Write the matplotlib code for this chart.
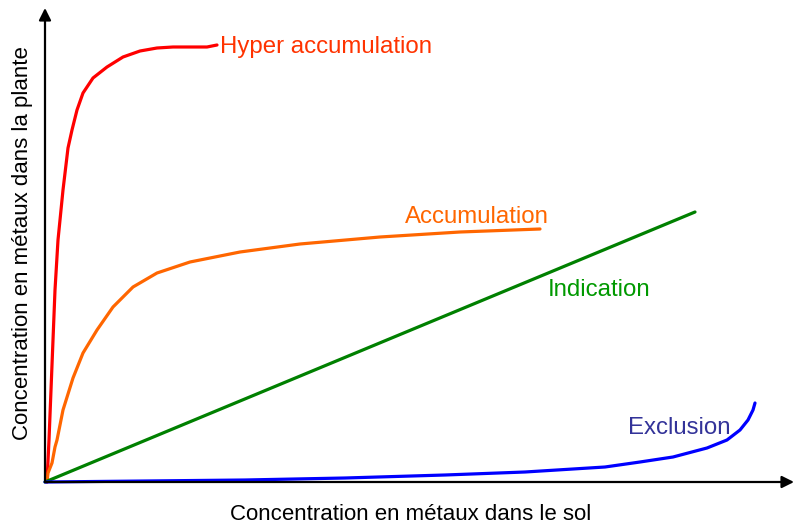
import matplotlib.pyplot as plt

plt.rcParams['font.family'] = ['Liberation Sans', 'DejaVu Sans']

# values (one unit = one pixel from the origin)
hyper_x = [2, 4, 6, 8, 10, 13, 18, 23, 27, 32, 38, 48, 62, 78, 95, 112, 128, 145, 162, 172]
hyper_y = [0, 42, 92, 142, 192, 242, 292, 334, 352, 372, 389, 404, 415, 425, 431, 434, 435, 435, 435, 437]

accu_x = [2, 3, 7, 10, 12, 18, 28, 38, 52, 68, 88, 112, 145, 195, 255, 335, 415, 495]
accu_y = [0, 9, 19, 35, 42, 72, 104, 129, 152, 175, 195, 209, 220, 230, 238, 245, 250, 253]

indic_x = [0, 650]
indic_y = [0, 270]

excl_x = [0, 100, 200, 300, 400, 480, 560, 595, 628, 662, 682, 695, 703, 708, 710]
excl_y = [0, 1, 2, 4, 7, 10, 15, 20, 25, 34, 42, 52, 62, 72, 79]

W, H = 794, 525
ox, oy = 45, 482

fig = plt.figure(figsize=(W / 100, H / 100), dpi=100)
ax = fig.add_axes([ox / W, (H - oy) / H, 1 - ox / W, oy / H])
ax.set_xlim(0, W - ox)
ax.set_ylim(0, oy)
ax.axis('off')

style = dict(lw=2.3, solid_capstyle='round', solid_joinstyle='round', clip_on=False)
ax.plot(hyper_x, hyper_y, color='#ff0000', **style)
ax.plot(accu_x, accu_y, color='#ff6600', **style)
ax.plot(indic_x, indic_y, color='#008000', **style)
ax.plot(excl_x, excl_y, color='#0000ff', **style)

# axes arrows
arrow = dict(arrowstyle='-|>', color='k', lw=1.6, mutation_scale=18, shrinkA=0, shrinkB=0)
ax.annotate('', xy=(W - ox, 0), xytext=(0, 0), arrowprops=arrow, annotation_clip=False)
ax.annotate('', xy=(0, oy - 8), xytext=(0, 0), arrowprops=arrow, annotation_clip=False)

fs = 17.3
ax.text(175, oy - 47, 'Hyper accumulation', color='#ff3300', fontsize=fs, va='center', ha='left')
ax.text(360, oy - 217, 'Accumulation', color='#ff6600', fontsize=fs, va='center', ha='left')
ax.text(503, oy - 290, 'Indication', color='#009900', fontsize=fs, va='center', ha='left')
ax.text(583, oy - 428, 'Exclusion', color='#333399', fontsize=fs, va='center', ha='left')

ax.text(411 - ox, oy - 514, 'Concentration en métaux dans le sol', fontsize=16,
        ha='center', va='center', clip_on=False)
ax.text(23 - ox, oy - 243, 'Concentration en métaux dans la plante', fontsize=16,
        ha='center', va='center', rotation=90, clip_on=False)

fig.savefig('out.png', dpi=100)
